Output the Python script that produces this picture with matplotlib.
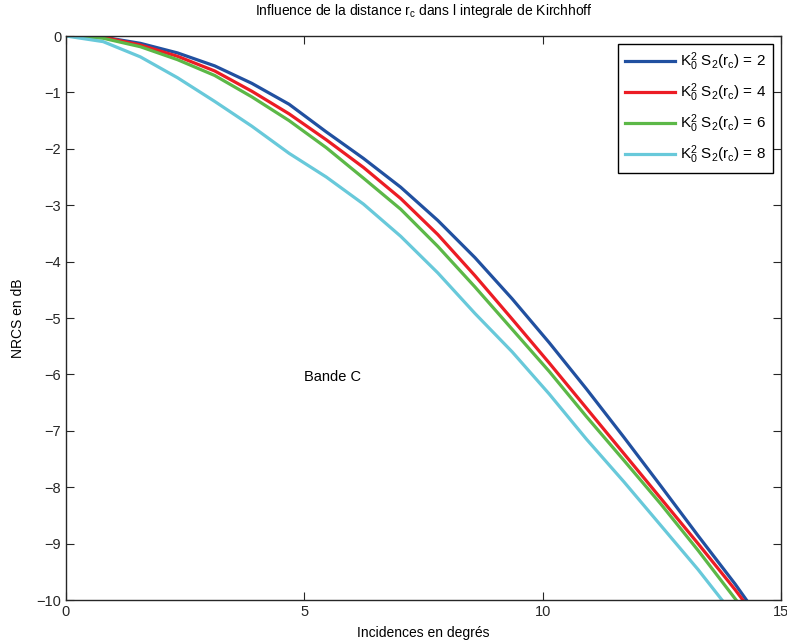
import numpy as np
import matplotlib
matplotlib.use('Agg')
import matplotlib.pyplot as plt

plt.rcParams['font.family'] = ['Liberation Sans', 'DejaVu Sans']
plt.rcParams['mathtext.fontset'] = 'custom'
plt.rcParams['mathtext.rm'] = 'Liberation Sans'
plt.rcParams['mathtext.it'] = 'Liberation Sans'
plt.rcParams['mathtext.bf'] = 'Liberation Sans'

# Incidences (degres)
incid = np.arange(20) * 0.78

# NRCS en dB pour K0^2 S2(rc) = 2, 4, 6, 8
nrcs_2 = [0, -0.02, -0.13, -0.30, -0.53, -0.84, -1.21, -1.70, -2.17, -2.68,
          -3.27, -3.93, -4.66, -5.44, -6.26, -7.11, -7.98, -8.86, -9.72, -10.65]
nrcs_4 = [0, -0.02, -0.16, -0.36, -0.62, -0.98, -1.38, -1.84, -2.33, -2.88,
          -3.52, -4.25, -5.02, -5.80, -6.60, -7.40, -8.20, -9.00, -9.82, -10.7]
nrcs_6 = [0, -0.04, -0.19, -0.42, -0.70, -1.08, -1.50, -1.98, -2.52, -3.07,
          -3.73, -4.45, -5.20, -5.95, -6.75, -7.52, -8.30, -9.12, -9.98, -10.85]
nrcs_8 = [0, -0.10, -0.37, -0.74, -1.16, -1.60, -2.08, -2.50, -2.98, -3.55,
          -4.20, -4.92, -5.60, -6.35, -7.15, -7.90, -8.68, -9.46, -10.3, -11.2]

valeurs = [2, 4, 6, 8]
couleurs = ['#2150a0', '#ec1c24', '#5cb847', '#68c9da']

fig = plt.figure(figsize=(7.87, 6.42), dpi=100)
ax = fig.add_axes([66/787, 1-600/642, (781-66)/787, (600-36)/642])

for y, v, c in zip([nrcs_2, nrcs_4, nrcs_6, nrcs_8], valeurs, couleurs):
    ax.plot(incid, y, color=c, lw=2.3,
            label=r'K$_0^2$ S$_2$(r$_c$) = %d' % v)

ax.set_xlim(0, 15)
ax.set_ylim(-10, 0)
ax.set_xticks([0, 5, 10, 15])
ax.set_yticks(np.arange(-10, 1, 1))
ax.tick_params(direction='in', top=True, right=True, labelsize=10.5,
               length=6, width=0.8, colors='#262626')
for s in ax.spines.values():
    s.set_linewidth(1.0)
    s.set_color('#262626')

ax.set_title(r'Influence de la distance r$_\mathrm{c}$ dans l integrale de Kirchhoff',
             fontsize=10, pad=15)
ax.set_xlabel('Incidences en degrés', fontsize=10, labelpad=5)
ax.set_ylabel('NRCS en dB', fontsize=10, labelpad=8)
ax.text(5.0, -6.05, 'Bande C', fontsize=10.5, ha='left', va='center')

leg = ax.legend(loc='upper right', fontsize=11, fancybox=False, framealpha=1,
                edgecolor='black', handlelength=3.3, borderaxespad=0.5,
                labelspacing=0.55, handletextpad=0.35, borderpad=0.45)
leg.get_frame().set_linewidth(1.0)

fig.savefig('out.png', dpi=100)
